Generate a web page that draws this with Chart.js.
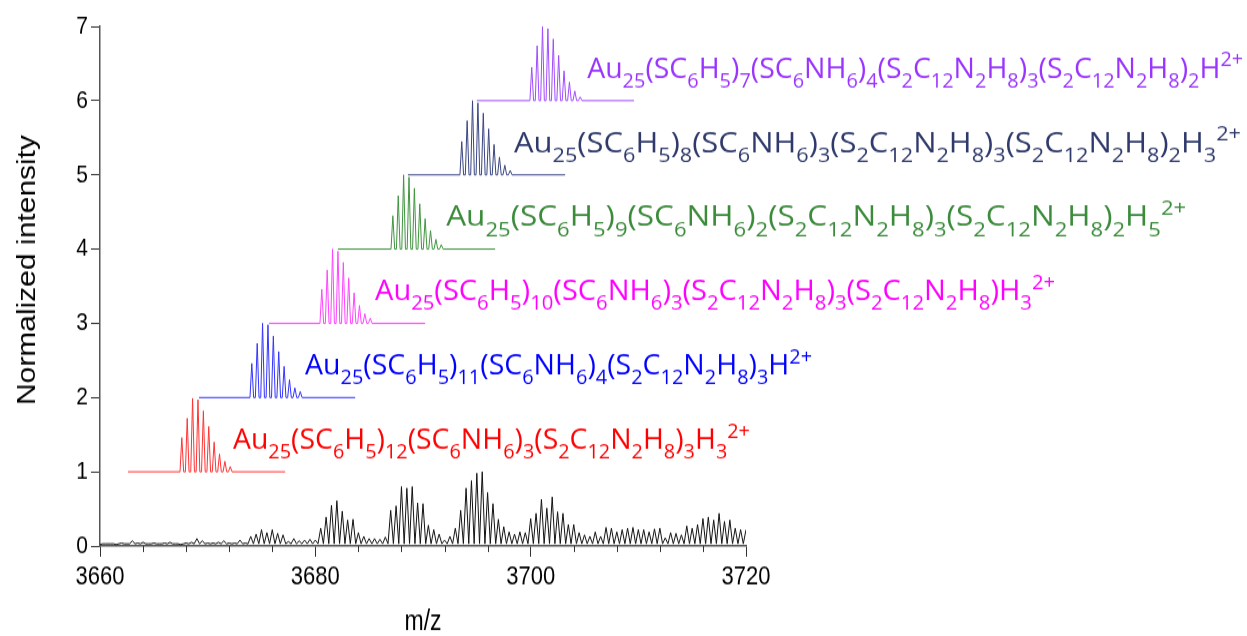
<!DOCTYPE html>
<html>
<head>
<meta charset="utf-8">
<script src="https://cdn.jsdelivr.net/npm/chart.js@4/dist/chart.umd.min.js"></script>
<style>
  html, body { margin: 0; padding: 0; background: #fff; }
</style>
</head>
<body>
<canvas id="chart" width="1247" height="530" style="display:block;width:1247px;height:636px"></canvas>
<script>
// experimental spectrum, peak positions (m/z) and normalized heights
const expMz = [
  3660, 3660.5, 3661, 3661.5, 3662, 3662.5, 3663, 3663.5, 3664, 3664.5,
  3665, 3665.5, 3666, 3666.5, 3667, 3667.5, 3668, 3668.5, 3669, 3669.5,
  3670, 3670.5, 3671, 3671.5, 3672, 3672.5, 3673, 3673.5, 3674, 3674.5,
  3675, 3675.5, 3676, 3676.5, 3677, 3677.5, 3678, 3678.5, 3679, 3679.5,
  3680, 3680.5, 3681, 3681.5, 3682, 3682.5, 3683, 3683.5, 3684, 3684.5,
  3685, 3685.5, 3686, 3686.5, 3687, 3687.5, 3688, 3688.5, 3689, 3689.5,
  3690, 3690.5, 3691, 3691.5, 3692, 3692.5, 3693, 3693.5, 3694, 3694.5,
  3695, 3695.5, 3696, 3696.5, 3697, 3697.5, 3698, 3698.5, 3699, 3699.5,
  3700, 3700.5, 3701, 3701.5, 3702, 3702.5, 3703, 3703.5, 3704, 3704.5,
  3705, 3705.5, 3706, 3706.5, 3707, 3707.5, 3708, 3708.5, 3709, 3709.5,
  3710, 3710.5, 3711, 3711.5, 3712, 3712.5, 3713, 3713.5, 3714, 3714.5,
  3715, 3715.5, 3716, 3716.5, 3717, 3717.5, 3718, 3718.5, 3719, 3719.5,
  3720
];
const expIntensity = [
  0.02, 0.03, 0.03, 0.02, 0.04, 0.03, 0.07, 0.04, 0.05, 0.03,
  0.04, 0.03, 0.04, 0.05, 0.03, 0.02, 0.04, 0.05, 0.10, 0.07,
  0.04, 0.04, 0.05, 0.07, 0.04, 0.04, 0.08, 0.04, 0.13, 0.16,
  0.22, 0.18, 0.22, 0.17, 0.15, 0.06, 0.10, 0.07, 0.08, 0.09,
  0.08, 0.24, 0.39, 0.55, 0.61, 0.47, 0.35, 0.36, 0.18, 0.13,
  0.10, 0.10, 0.09, 0.12, 0.48, 0.54, 0.80, 0.78, 0.80, 0.58,
  0.57, 0.28, 0.22, 0.16, 0.08, 0.13, 0.24, 0.48, 0.78, 0.88,
  0.98, 1.00, 0.72, 0.57, 0.36, 0.26, 0.19, 0.16, 0.19, 0.18,
  0.37, 0.44, 0.63, 0.51, 0.66, 0.46, 0.44, 0.29, 0.29, 0.18,
  0.15, 0.13, 0.19, 0.13, 0.25, 0.24, 0.19, 0.22, 0.24, 0.25,
  0.22, 0.22, 0.19, 0.23, 0.24, 0.11, 0.18, 0.17, 0.15, 0.27,
  0.24, 0.29, 0.37, 0.39, 0.35, 0.44, 0.33, 0.35, 0.24, 0.22,
  0.22
];
const expValley = 0.03;

// simulated isotope patterns (stacked with offsets 1..6)
const simOffset = [1, 2, 3, 4, 5, 6];
const simStart = [3662.6, 3669.2, 3675.7, 3682.1, 3688.6, 3695.0];
const simEnd = [3677.2, 3683.7, 3690.2, 3696.7, 3703.2, 3709.6];

const redMz = [3667.6, 3668.1, 3668.6, 3669.1, 3669.6, 3670.1, 3670.6, 3671.1, 3671.6, 3672.1];
const redInt = [0.46, 0.72, 0.99, 0.97, 0.82, 0.61, 0.40, 0.24, 0.14, 0.07];
const blueMz = [3674.1, 3674.6, 3675.1, 3675.6, 3676.1, 3676.6, 3677.1, 3677.6, 3678.1, 3678.6];
const blueInt = [0.46, 0.73, 1.00, 0.98, 0.83, 0.62, 0.42, 0.24, 0.13, 0.08];
const pinkMz = [3680.6, 3681.1, 3681.6, 3682.1, 3682.6, 3683.1, 3683.6, 3684.1, 3684.6, 3685.1];
const pinkInt = [0.46, 0.72, 1.00, 0.97, 0.82, 0.61, 0.41, 0.24, 0.13, 0.07];
const greenMz = [3687.2, 3687.7, 3688.2, 3688.7, 3689.2, 3689.7, 3690.2, 3690.7, 3691.2, 3691.7];
const greenInt = [0.45, 0.72, 1.00, 0.97, 0.82, 0.61, 0.41, 0.25, 0.13, 0.06];
const navyMz = [3693.6, 3694.1, 3694.6, 3695.1, 3695.6, 3696.1, 3696.6, 3697.1, 3697.6, 3698.1];
const navyInt = [0.45, 0.73, 1.00, 0.97, 0.83, 0.62, 0.41, 0.24, 0.13, 0.06];
const purpleMz = [3700.1, 3700.6, 3701.1, 3701.6, 3702.1, 3702.6, 3703.1, 3703.6, 3704.1, 3704.6];
const purpleInt = [0.45, 0.74, 1.00, 0.97, 0.83, 0.61, 0.40, 0.25, 0.13, 0.05];

const xTicks = [3660, 3680, 3700, 3720];
const yTicks = [0, 1, 2, 3, 4, 5, 6, 7];

const formulas = [
  "Au_{25}(SC_{6}H_{5})_{12}(SC_{6}NH_{6})_{3}(S_{2}C_{12}N_{2}H_{8})_{3}H_{3}^{2+}",
  "Au_{25}(SC_{6}H_{5})_{11}(SC_{6}NH_{6})_{4}(S_{2}C_{12}N_{2}H_{8})_{3}H^{2+}",
  "Au_{25}(SC_{6}H_{5})_{10}(SC_{6}NH_{6})_{3}(S_{2}C_{12}N_{2}H_{8})_{3}(S_{2}C_{12}N_{2}H_{8})H_{3}^{2+}",
  "Au_{25}(SC_{6}H_{5})_{9}(SC_{6}NH_{6})_{2}(S_{2}C_{12}N_{2}H_{8})_{3}(S_{2}C_{12}N_{2}H_{8})_{2}H_{5}^{2+}",
  "Au_{25}(SC_{6}H_{5})_{8}(SC_{6}NH_{6})_{3}(S_{2}C_{12}N_{2}H_{8})_{3}(S_{2}C_{12}N_{2}H_{8})_{2}H_{3}^{2+}",
  "Au_{25}(SC_{6}H_{5})_{7}(SC_{6}NH_{6})_{4}(S_{2}C_{12}N_{2}H_{8})_{3}(S_{2}C_{12}N_{2}H_{8})_{2}H^{2+}"
];

const lineColors = ["#ff3333", "#3333ff", "#ff44ff", "#3f943f", "#3a4580", "#a04cff"];
const textColors = ["#ff0000", "#0000ff", "#ff00ff", "#3b8b3b", "#2f3a6b", "#9933ff"];
// label anchor (start x in m/z, baseline in intensity units) and drawn width in px
const labelPos = [
  [3672.35, 1.31], [3679.05, 2.31], [3685.55, 3.31],
  [3692.15, 4.31], [3698.45, 5.31], [3705.25, 6.31]
];
const labelWidth = [517, 507, 680, 740, 727, 656];

// the canvas is shown stretched vertically; labels undo it
const V_STRETCH = 636 / 530;
const LABEL_FONT = "'Open Sans'";
const LABEL_SIZE = 28;

function expPoints() {
  const pts = [];
  expMz.forEach((m, i) => {
    pts.push({x: m - 0.25, y: expValley});
    pts.push({x: m, y: expIntensity[i]});
  });
  pts.push({x: expMz[expMz.length - 1] + 0.25, y: expValley});
  return pts;
}

function simPoints(k, mz, h) {
  const base = simOffset[k];
  const pts = [{x: simStart[k], y: base}];
  mz.forEach((m, i) => {
    pts.push({x: m - 0.17, y: base});
    pts.push({x: m, y: base + h[i]});
    pts.push({x: m + 0.17, y: base});
  });
  pts.push({x: simEnd[k], y: base});
  return pts;
}

const sims = [
  [redMz, redInt], [blueMz, blueInt], [pinkMz, pinkInt],
  [greenMz, greenInt], [navyMz, navyInt], [purpleMz, purpleInt]
];

const datasets = [{
  data: expPoints(),
  borderColor: "#111",
  borderWidth: 1
}];
sims.forEach((s, k) => {
  datasets.push({
    data: simPoints(k, s[0], s[1]),
    borderColor: lineColors[k],
    borderWidth: 1
  });
});

function richRuns(str, size) {
  const re = /([_^])\{([^}]*)\}|([^_^]+)/g;
  const runs = [];
  let m;
  while ((m = re.exec(str))) {
    if (m[3]) runs.push({t: m[3], size: size, dy: 0});
    else runs.push({t: m[2], size: size * 0.7, dy: m[1] === "_" ? size * 0.35 : -size * 0.4});
  }
  return runs;
}

function drawRich(ctx, str, x, y, width, color) {
  const runs = richRuns(str, LABEL_SIZE);
  let natural = 0;
  runs.forEach(r => {
    ctx.font = r.size + "px " + LABEL_FONT;
    natural += ctx.measureText(r.t).width;
  });
  ctx.save();
  ctx.translate(x, y);
  ctx.scale(width / natural, 1 / V_STRETCH);
  ctx.fillStyle = color;
  ctx.textAlign = "left";
  ctx.textBaseline = "alphabetic";
  let cx = 0;
  runs.forEach(r => {
    ctx.font = r.size + "px " + LABEL_FONT;
    ctx.fillText(r.t, cx, r.dy);
    cx += ctx.measureText(r.t).width;
  });
  ctx.restore();
}

const extras = {
  id: "extras",
  afterDraw(chart) {
    const ctx = chart.ctx;
    const xs = chart.scales.x, ys = chart.scales.y;
    ctx.save();
    // minor ticks on x axis
    ctx.strokeStyle = "#333";
    ctx.lineWidth = 1;
    for (let v = xs.min; v <= xs.max; v += 4) {
      if (v % 20 === 0) continue;
      const px = Math.round(xs.getPixelForValue(v)) + 0.5;
      ctx.beginPath();
      ctx.moveTo(px, ys.bottom);
      ctx.lineTo(px, ys.bottom + 5);
      ctx.stroke();
    }
    // y axis title, sits a bit above the middle
    ctx.translate(28, (ys.top + ys.bottom) / 2 - 13.5);
    ctx.rotate(-Math.PI / 2);
    ctx.font = "25px 'Liberation Sans', Arial";
    ctx.fillStyle = "#000";
    ctx.textAlign = "center";
    ctx.textBaseline = "middle";
    ctx.fillText("Normalized intensity", 0, 0);
    ctx.restore();
    // formula labels
    formulas.forEach((f, k) => {
      drawRich(ctx, f, xs.getPixelForValue(labelPos[k][0]),
        ys.getPixelForValue(labelPos[k][1]), labelWidth[k], textColors[k]);
    });
  }
};

new Chart(document.getElementById("chart"), {
  type: "scatter",
  data: { datasets: datasets },
  options: {
    responsive: false,
    animation: false,
    showLine: true,
    elements: { point: { radius: 0 }, line: { tension: 0 } },
    layout: { padding: { top: 22, right: 501, left: 0, bottom: 0 } },
    plugins: { legend: { display: false }, tooltip: { enabled: false } },
    scales: {
      x: {
        type: "linear",
        min: 3660, max: 3720,
        afterFit: s => { s.height = 75; },
        afterBuildTicks: s => { s.ticks = xTicks.map(v => ({value: v})); },
        ticks: { color: "#000", padding: 4, callback: v => String(v),
                 font: { family: "'Liberation Sans', Arial", size: 22 } },
        grid: { drawOnChartArea: false, tickLength: 9, tickColor: "#333" },
        border: { color: "#555", width: 1.5 },
        title: { display: true, text: "m/z", color: "#000", padding: { top: 0, bottom: 0 },
                 font: { family: "'Liberation Sans', Arial", size: 23, lineHeight: 1 } }
      },
      y: {
        min: 0, max: 7,
        afterFit: s => { s.width = 100; },
        afterBuildTicks: s => { s.ticks = yTicks.map(v => ({value: v})); },
        ticks: { color: "#000", padding: 3, callback: v => String(v),
                 font: { family: "'Liberation Sans', Arial", size: 21 } },
        grid: { drawOnChartArea: false, tickLength: 9, tickColor: "#333" },
        border: { color: "#555", width: 1.5 }
      }
    }
  },
  plugins: [extras]
});
</script>
</body>
</html>
